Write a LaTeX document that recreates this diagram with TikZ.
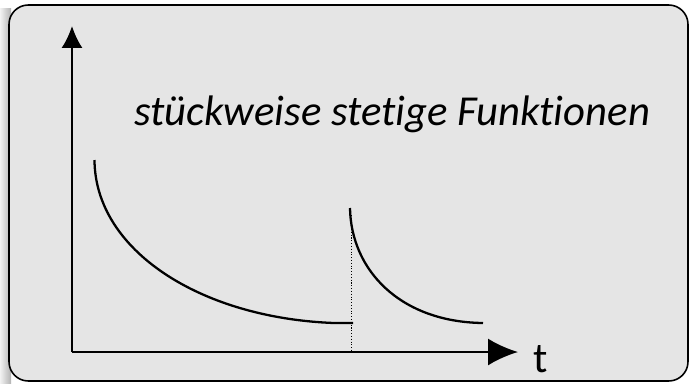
\documentclass[tikz,border=0pt]{standalone}
\usepackage{fontspec}
\setmainfont[Ligatures={NoCommon,NoContextual}]{Carlito}
\usetikzlibrary{arrows.meta,positioning}

\begin{document}
\begin{tikzpicture}[
  x=0.02cm, y=-0.02cm,
  frame/.style={draw=black,line width=0.9pt,rounded corners=11pt,fill=black!10},
  axis/.style={line width=1.2pt},
  graph/.style={line width=1.3pt},
  label/.style={inner sep=0pt,anchor=base west,font=\fontsize{24.3}{28}\selectfont}
]
  \useasboundingbox (0,0) rectangle (689,383);
  \shade[left color=white!95!black,right color=black!30] (0,8) rectangle (11,383);
  \draw[frame] (9,5) rectangle (688,381);

  \coordinate (origin) at (72,352);
  \coordinate (ytop)   at (72,26);
  \coordinate (xend)   at (518,352);
  \draw[axis,-{Latex[length=12.5pt,width=12pt]}] (origin) -- (ytop);
  \draw[axis,-{Latex[length=17pt,width=15.3pt]}] (origin) -- (xend);

  \node[label] (title)  at (134,125) {\itshape stückweise stetige Funktionen};
  \node[label] (tlabel) at (533,372) {t};

  % erstes Stueck
  \coordinate (s1) at (94.5,160);
  \coordinate (e1) at (334,323);
  \coordinate (j1) at (353,323);
  \draw[graph] (s1) .. controls (95,250) and (200,318) .. (e1) -- (j1);

  % Sprungstelle
  \coordinate (s2) at (350,208);
  \coordinate (e2) at (483,323);
  \coordinate (foot) at (351.5,352);
  \draw[densely dotted,line width=0.6pt] (351.5,215) -- (foot);
  \draw[graph] (s2) .. controls (351,270) and (400,322) .. (e2);
\end{tikzpicture}
\end{document}
